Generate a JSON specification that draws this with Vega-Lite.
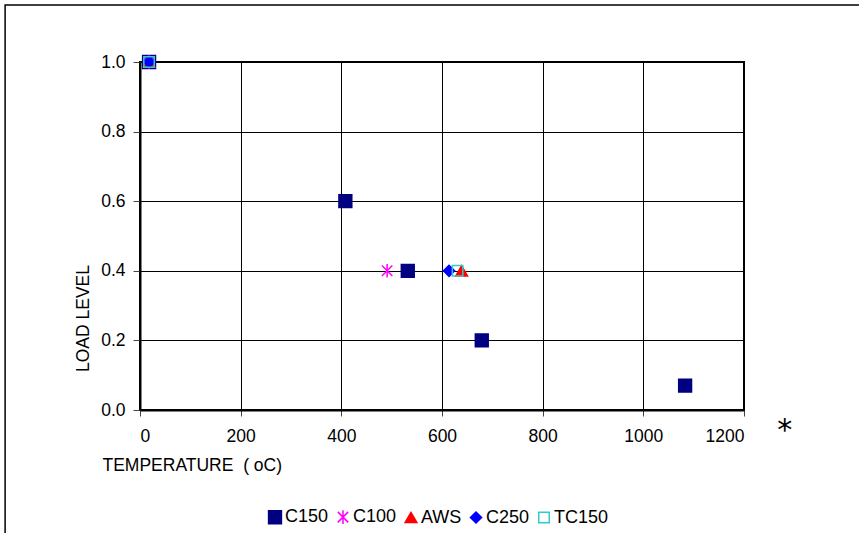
{
  "$schema": "https://vega.github.io/schema/vega-lite/v6.json",
  "width": 604,
  "height": 348,
  "autosize": {"type": "none"},
  "padding": {"left": 140, "top": 62, "right": 115, "bottom": 123},
  "background": "white",
  "config": {
    "view": {"stroke": "black", "strokeWidth": 2},
    "font": "Liberation Sans",
    "axis": {
      "labelFont": "Liberation Sans",
      "labelFontSize": 17.5,
      "labelColor": "black",
      "titleFont": "Liberation Sans",
      "titleFontSize": 17.5,
      "titleFontWeight": "normal",
      "titleColor": "black",
      "gridColor": "black",
      "gridWidth": 1,
      "gridOpacity": 1,
      "domainColor": "black",
      "domainWidth": 2,
      "tickColor": "#444444",
      "tickWidth": 1
    },
    "legend": {
      "labelFont": "Liberation Sans",
      "labelFontSize": 18,
      "labelColor": "black",
      "padding": 0
    }
  },
  "data": {
    "values": [
      {"series": "C150", "temp": 18, "load": 1.0},
      {"series": "C150", "temp": 408, "load": 0.6},
      {"series": "C150", "temp": 532, "load": 0.4},
      {"series": "C150", "temp": 679, "load": 0.2},
      {"series": "C150", "temp": 1083, "load": 0.07},
      {"series": "C100", "temp": 18, "load": 1.0},
      {"series": "C100", "temp": 491, "load": 0.4},
      {"series": "AWS", "temp": 18, "load": 1.0},
      {"series": "AWS", "temp": 639, "load": 0.4},
      {"series": "C250", "temp": 18, "load": 1.0},
      {"series": "C250", "temp": 614, "load": 0.4},
      {"series": "TC150", "temp": 18, "load": 1.0},
      {"series": "TC150", "temp": 631, "load": 0.4}
    ]
  },
  "layer": [
    {
      "mark": {"type": "point", "filled": true, "strokeWidth": 1.5, "opacity": 1},
      "encoding": {
        "x": {
          "field": "temp",
          "type": "quantitative",
          "scale": {"domain": [0, 1200], "nice": false, "zero": false},
          "axis": {
            "values": [0, 200, 400, 600, 800, 1000, 1200],
            "format": "d",
            "title": "TEMPERATURE\u00a0\u00a0( oC)",
            "tickSize": 6,
            "labelPadding": 11,
            "titleX": -38,
            "titleY": 55,
            "titleAlign": "left",
            "titleBaseline": "middle"
          }
        },
        "y": {
          "field": "load",
          "type": "quantitative",
          "scale": {"domain": [0, 1], "nice": false},
          "axis": {
            "values": [0, 0.2, 0.4, 0.6, 0.8, 1.0],
            "format": ".1f",
            "title": "LOAD LEVEL",
            "tickSize": 7,
            "labelPadding": 8,
            "titleX": -57,
            "titleY": 256,
            "titleBaseline": "middle"
          }
        },
        "shape": {
          "field": "series",
          "type": "nominal",
          "scale": {
            "domain": ["C150", "C100", "AWS", "C250", "TC150"],
            "range": ["square", "M-0.85,-0.85L0.85,0.85M-0.85,0.85L0.85,-0.85M0,-1.1L0,1.1", "triangle-up", "diamond", "square"]
          },
          "legend": {
            "title": null,
            "orient": "none",
            "direction": "horizontal",
            "legendX": 126,
            "legendY": 446,
            "columnPadding": 5,
            "labelOffset": 1
          }
        },
        "fill": {
          "field": "series",
          "type": "nominal",
          "scale": {
            "domain": ["C150", "C100", "AWS", "C250", "TC150"],
            "range": ["#000080", "#FF00FF", "#FF0000", "#0000FF", "transparent"]
          },
          "legend": {
            "title": null,
            "orient": "none",
            "direction": "horizontal",
            "legendX": 126,
            "legendY": 446,
            "columnPadding": 5,
            "labelOffset": 1
          }
        },
        "stroke": {
          "field": "series",
          "type": "nominal",
          "scale": {
            "domain": ["C150", "C100", "AWS", "C250", "TC150"],
            "range": ["#000080", "#FF00FF", "#FF0000", "#0000FF", "#33CCCC"]
          },
          "legend": {
            "title": null,
            "orient": "none",
            "direction": "horizontal",
            "legendX": 126,
            "legendY": 446,
            "columnPadding": 5,
            "labelOffset": 1
          }
        },
        "size": {
          "field": "series",
          "type": "nominal",
          "scale": {
            "domain": ["C150", "C100", "AWS", "C250", "TC150"],
            "range": [165, 110, 120, 110, 100]
          },
          "legend": {
            "title": null,
            "orient": "none",
            "direction": "horizontal",
            "legendX": 126,
            "legendY": 446,
            "columnPadding": 5,
            "labelOffset": 1
          }
        }
      }
    },
    {
      "data": {"values": [{"t": "*"}]},
      "mark": {"type": "text", "fontSize": 30, "font": "DejaVu Sans", "color": "black", "baseline": "middle", "align": "center", "clip": false},
      "encoding": {
        "x": {"datum": 1281, "type": "quantitative"},
        "y": {"datum": -0.06, "type": "quantitative"},
        "text": {"field": "t"}
      }
    },
    {
      "data": {"values": [{"frame": 1}]},
      "mark": {"type": "rect", "fill": null, "fillOpacity": 0, "stroke": "black", "strokeWidth": 1.5, "clip": false},
      "encoding": {
        "x": {"datum": -268, "type": "quantitative"},
        "x2": {"datum": 1440},
        "y": {"datum": 1.164, "type": "quantitative"},
        "y2": {"datum": -0.4}
      }
    }
  ]
}
